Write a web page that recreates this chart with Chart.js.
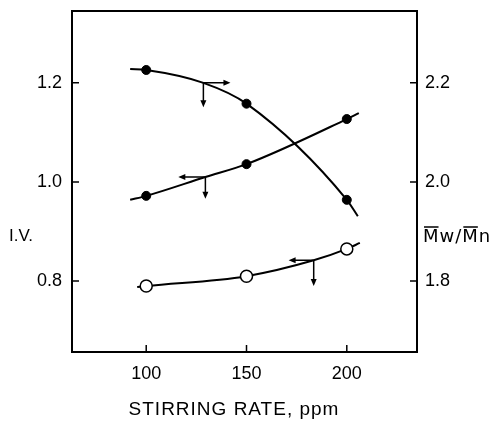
<!DOCTYPE html>
<html>
<head>
<meta charset="utf-8">
<script src="https://cdn.jsdelivr.net/npm/chart.js@4"></script>
<style>
    html, body { margin: 0; padding: 0; background: #fff; }
    #chart { display: block; }
</style>
</head>
<body>
<canvas id="chart" width="498" height="421"></canvas>
<script>
// tick values
const rateTicks = [100, 150, 200];
const ivTicks = [0.8, 1.0, 1.2];
const ratioTicks = [1.8, 2.0, 2.2];

// measured points
const rates = [100, 150, 200];
const ratioFilled = [2.226, 2.158, 1.964];   // Mw/Mn (right axis)
const ivFilled = [0.972, 1.036, 1.127];      // I.V. (left axis)
const ivOpen = [0.790, 0.810, 0.865];        // I.V. (left axis)

// fitted curves
const ratioCurveX = [92, 100, 128.5, 150, 200, 205.5];
const ratioCurveY = [2.228, 2.226, 2.200, 2.158, 1.964, 1.931];
const ivFilledCurveX = [92, 100, 129.5, 150, 200, 206];
const ivFilledCurveY = [0.964, 0.972, 1.010, 1.036, 1.127, 1.139];
const ivOpenCurveX = [95.5, 100, 150, 183.5, 200, 206.5];
const ivOpenCurveY = [0.788, 0.790, 0.810, 0.842, 0.865, 0.877];

// axis pointer arrows (left-axis units)
const arrowX = [128.5, 129.5, 183.5];
const arrowY = [1.200, 1.010, 0.842];
const arrowHorizEnd = [142, 116, 171];
const arrowVertEnd = [1.151, 0.966, 0.790];

const FONT = "'Liberation Sans', Arial, sans-serif";

function pts(xs, ys) {
    return xs.map((x, i) => ({ x: x, y: ys[i] }));
}

const framePlugin = {
    id: "frame",
    afterDatasetsDraw(chart) {
        const ctx = chart.ctx;
        const a = chart.chartArea;
        const sx = chart.scales.x;
        const sy = chart.scales.y;
        const sy2 = chart.scales.y2;

        ctx.save();
        ctx.strokeStyle = "#000";
        ctx.lineWidth = 2;
        ctx.strokeRect(a.left, a.top, a.right - a.left, a.bottom - a.top);

        // inward ticks
        ctx.lineWidth = 1.5;
        ctx.beginPath();
        rateTicks.forEach(v => {
            const px = sx.getPixelForValue(v);
            ctx.moveTo(px, a.bottom);
            ctx.lineTo(px, a.bottom - 7);
        });
        ivTicks.forEach(v => {
            const py = sy.getPixelForValue(v);
            ctx.moveTo(a.left, py);
            ctx.lineTo(a.left + 7, py);
        });
        ratioTicks.forEach(v => {
            const py = sy2.getPixelForValue(v);
            ctx.moveTo(a.right, py);
            ctx.lineTo(a.right - 7, py);
        });
        ctx.stroke();

        // arrows
        ctx.fillStyle = "#000";
        ctx.lineWidth = 1.5;
        arrowX.forEach((x, i) => {
            const x0 = sx.getPixelForValue(x);
            const y0 = sy.getPixelForValue(arrowY[i]);
            const xh = sx.getPixelForValue(arrowHorizEnd[i]);
            const yv = sy.getPixelForValue(arrowVertEnd[i]);
            const dir = xh > x0 ? 1 : -1;
            ctx.beginPath();
            ctx.moveTo(x0, y0);
            ctx.lineTo(xh - dir * 5, y0);
            ctx.moveTo(x0, y0);
            ctx.lineTo(x0, yv - 5);
            ctx.stroke();
            ctx.beginPath();
            ctx.moveTo(xh, y0);
            ctx.lineTo(xh - dir * 7, y0 - 3);
            ctx.lineTo(xh - dir * 7, y0 + 3);
            ctx.closePath();
            ctx.fill();
            ctx.beginPath();
            ctx.moveTo(x0, yv);
            ctx.lineTo(x0 - 3, yv - 7);
            ctx.lineTo(x0 + 3, yv - 7);
            ctx.closePath();
            ctx.fill();
        });

        // axis titles
        ctx.fillStyle = "#000";
        ctx.textBaseline = "middle";
        ctx.textAlign = "left";
        ctx.font = "17px " + FONT;
        ctx.fillText("I.V.", 9, 236);

        // Mw/Mn with overbars on the M's
        ctx.font = "18px 'DejaVu Sans', sans-serif";
        ctx.letterSpacing = "1px";
        const rx = 423;
        const ry = 237;
        ctx.fillText("Mw/Mn", rx, ry);
        const mW = ctx.measureText("M").width;
        const off2 = ctx.measureText("Mw/").width;
        ctx.lineWidth = 1.5;
        ctx.beginPath();
        ctx.moveTo(rx + 1, ry - 10);
        ctx.lineTo(rx + mW - 1, ry - 10);
        ctx.moveTo(rx + off2 + 1, ry - 10);
        ctx.lineTo(rx + off2 + mW - 1, ry - 10);
        ctx.stroke();

        ctx.letterSpacing = "1px";
        ctx.font = "19px " + FONT;
        ctx.textAlign = "center";
        ctx.fillText("STIRRING RATE, ppm", 234, 410);
        ctx.restore();
    }
};

const ctx = document.getElementById("chart").getContext("2d");

new Chart(ctx, {
    data: {
        datasets: [
            {
                type: "line",
                data: pts(rates, ratioFilled),
                yAxisID: "y2",
                showLine: false,
                pointRadius: 4.5,
                pointBackgroundColor: "#000",
                pointBorderColor: "#000",
                pointBorderWidth: 1
            },
            {
                type: "line",
                data: pts(rates, ivFilled),
                yAxisID: "y",
                showLine: false,
                pointRadius: 4.5,
                pointBackgroundColor: "#000",
                pointBorderColor: "#000",
                pointBorderWidth: 1
            },
            {
                type: "line",
                data: pts(rates, ivOpen),
                yAxisID: "y",
                showLine: false,
                pointRadius: 6,
                pointBackgroundColor: "#fff",
                pointBorderColor: "#000",
                pointBorderWidth: 1.5
            },
            {
                type: "line",
                data: pts(ratioCurveX, ratioCurveY),
                yAxisID: "y2",
                borderColor: "#000",
                borderWidth: 2,
                pointRadius: 0,
                cubicInterpolationMode: "monotone"
            },
            {
                type: "line",
                data: pts(ivFilledCurveX, ivFilledCurveY),
                yAxisID: "y",
                borderColor: "#000",
                borderWidth: 2,
                pointRadius: 0,
                cubicInterpolationMode: "monotone"
            },
            {
                type: "line",
                data: pts(ivOpenCurveX, ivOpenCurveY),
                yAxisID: "y",
                borderColor: "#000",
                borderWidth: 2,
                pointRadius: 0,
                cubicInterpolationMode: "monotone"
            }
        ]
    },
    options: {
        responsive: false,
        devicePixelRatio: 1,
        animation: false,
        layout: { padding: { top: 11, left: 0, right: 0, bottom: 0 } },
        plugins: {
            legend: { display: false },
            tooltip: { enabled: false }
        },
        scales: {
            x: {
                type: "linear",
                min: 63,
                max: 235,
                grid: { display: false, drawTicks: false },
                border: { display: false },
                afterBuildTicks: s => { s.ticks = rateTicks.map(v => ({ value: v })); },
                afterFit: s => {
                    s.height = 69;
                    s.paddingLeft = 0;
                    s.paddingRight = 0;
                },
                ticks: {
                    color: "#000",
                    padding: 11,
                    maxRotation: 0,
                    font: { family: FONT, size: 18 },
                    callback: v => String(v)
                }
            },
            y: {
                type: "linear",
                position: "left",
                min: 0.657,
                max: 1.345,
                grid: { display: false, drawTicks: false },
                border: { display: false },
                afterBuildTicks: s => { s.ticks = ivTicks.map(v => ({ value: v })); },
                afterFit: s => {
                    s.width = 72;
                    s.paddingTop = 0;
                    s.paddingBottom = 0;
                },
                ticks: {
                    color: "#000",
                    padding: 10,
                    font: { family: FONT, size: 18 },
                    callback: v => Number(v).toFixed(1)
                }
            },
            y2: {
                type: "linear",
                position: "right",
                min: 1.657,
                max: 2.345,
                grid: { display: false, drawTicks: false },
                border: { display: false },
                afterBuildTicks: s => { s.ticks = ratioTicks.map(v => ({ value: v })); },
                afterFit: s => {
                    s.width = 81;
                    s.paddingTop = 0;
                    s.paddingBottom = 0;
                },
                ticks: {
                    color: "#000",
                    padding: 8,
                    font: { family: FONT, size: 18 },
                    callback: v => Number(v).toFixed(1)
                }
            }
        }
    },
    plugins: [framePlugin]
});
</script>
</body>
</html>
